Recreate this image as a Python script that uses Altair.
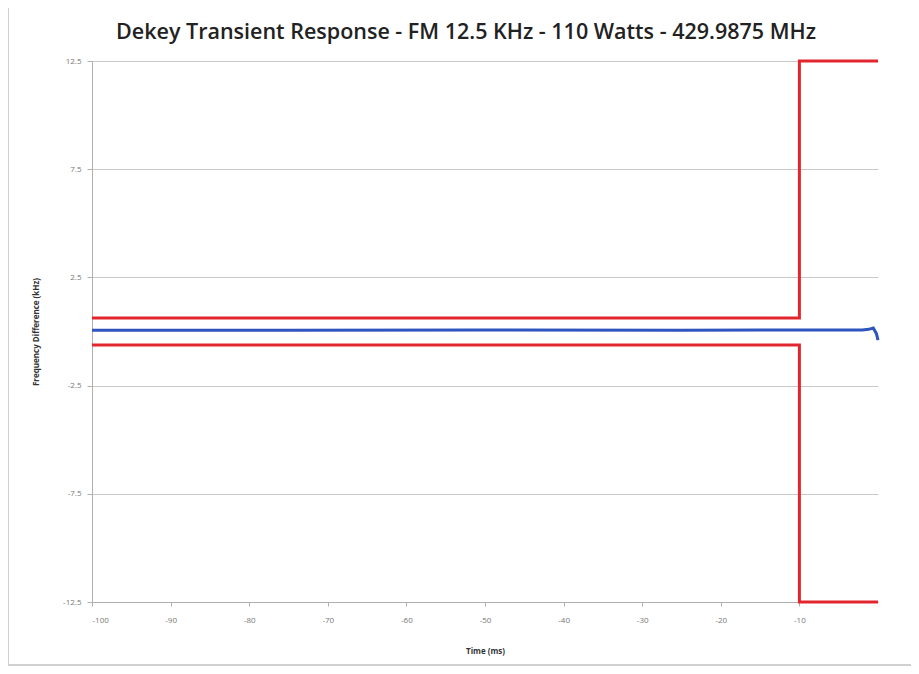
import altair as alt
import pandas as pd

# Mask limits (kHz)
mask_time = [-100, -10, -10, 0]
mask_upper = [0.625, 0.625, 12.5, 12.5]
mask_lower = [-0.625, -0.625, -12.5, -12.5]

# Measured frequency difference (kHz)
meas_time = [-100, -75, -50, -25, -2.0, -1.2, -0.6, -0.2, 0]
meas_freq = [0.06, 0.06, 0.07, 0.06, 0.07, 0.1, 0.16, -0.1, -0.4]

y_ticks = [-12.5, -7.5, -2.5, 2.5, 7.5, 12.5]
x_ticks = [-100, -90, -80, -70, -60, -50, -40, -30, -20, -10]

rows = []
for i, (t, v) in enumerate(zip(mask_time, mask_upper)):
    rows.append({"t": t, "v": v, "s": "upper", "o": i})
for i, (t, v) in enumerate(zip(mask_time, mask_lower)):
    rows.append({"t": t, "v": v, "s": "lower", "o": i})
mask_df = pd.DataFrame(rows)
meas_df = pd.DataFrame({"t": meas_time, "v": meas_freq, "o": list(range(len(meas_time)))})

W, H = 786, 541

xenc = alt.X("t:Q", scale=alt.Scale(domain=[-100, 0], nice=False),
             axis=alt.Axis(values=x_ticks, grid=False, title="Time (ms)",
                           labelExpr="replace(datum.label, '\u2212', '-')",
                           tickSize=4, labelPadding=10, titlePadding=23))
yenc = alt.Y("v:Q", scale=alt.Scale(domain=[-12.5, 12.5], nice=False),
             axis=alt.Axis(values=y_ticks, format=".1f", grid=True,
                           labelExpr="replace(datum.label, '\u2212', '-')",
                           title="Frequency Difference (kHz)",
                           tickSize=5, labelPadding=6, titlePadding=22))

mask = alt.Chart(mask_df).mark_line(color="#e3262e", strokeWidth=3).encode(
    x=xenc, y=yenc, detail="s:N", order="o:Q")

meas = alt.Chart(meas_df).mark_line(color="#2f54c0", strokeWidth=3).encode(
    x="t:Q", y="v:Q", order="o:Q")

frame = alt.Chart(pd.DataFrame({"a": [0]})).mark_rect(
    fill=None, stroke="#d0d0d0", strokeWidth=2).encode(
    x=alt.value(-84), x2=alt.value(W + 60),
    y=alt.value(-57), y2=alt.value(H + 63))

chart = alt.layer(frame, mask, meas).properties(
    width=W, height=H,
    autosize=alt.AutoSizeParams(type="none"),
    padding={"left": 84, "top": 53, "right": 33, "bottom": 64},
    title=alt.TitleParams(
        "Dekey Transient Response - FM 12.5 KHz - 110 Watts - 429.9875 MHz",
        fontSize=21.5, font="Open Sans", fontWeight=600, color="#222222",
        anchor="middle", dx=-19, dy=54, offset=14),
).configure_view(stroke=None).configure_axis(
    labelFont="Open Sans", labelFontSize=8, labelColor="#777777",
    titleFont="Open Sans", titleFontSize=8, titleFontWeight="bold", titleColor="#333333",
    domainColor="#b0b0b0", tickColor="#b0b0b0", gridColor="#c8c8c8",
)

chart.save("out.html", embed_options={"renderer": "svg", "actions": False})
